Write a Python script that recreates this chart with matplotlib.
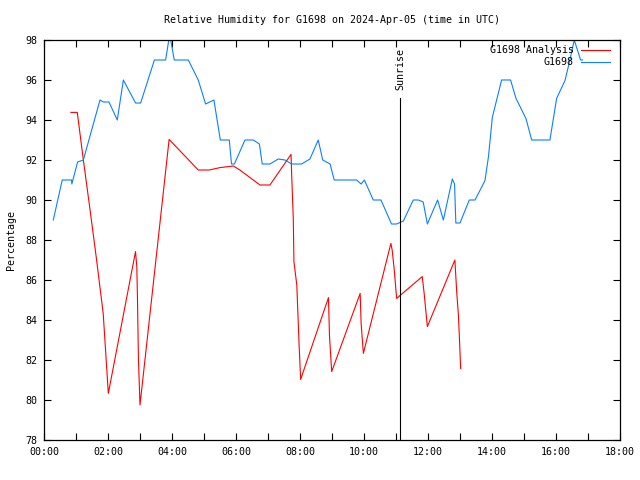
import matplotlib
matplotlib.use("Agg")
import matplotlib.pyplot as plt
from matplotlib.ticker import MultipleLocator, FuncFormatter

# Observation series (hours UTC, %RH)
obs_hours = [0.29, 0.57, 0.86, 0.87, 1.05, 1.23, 1.75, 1.85, 2.03, 2.29, 2.48, 2.86, 3.02,
             3.45, 3.80, 3.90, 3.96, 4.07, 4.51, 4.82, 5.05, 5.31, 5.51, 5.79, 5.86, 5.95,
             6.28, 6.54, 6.73, 6.82, 7.06, 7.32, 7.53, 7.74, 8.05, 8.31, 8.57, 8.71, 8.94,
             9.07, 9.77, 9.91, 10.01, 10.29, 10.53, 10.86, 11.02, 11.23, 11.54, 11.70, 11.85,
             11.98, 12.30, 12.48, 12.76, 12.83, 12.87, 13.00, 13.29, 13.47, 13.78, 13.89,
             14.01, 14.30, 14.58, 14.75, 15.06, 15.24, 15.81, 16.02, 16.28, 16.41, 16.57,
             16.77, 16.83]
obs_rh = [89.0, 91.0, 91.0, 90.8, 91.9, 92.0, 95.0, 94.9, 94.9, 94.0, 96.0, 94.85, 94.85,
          97.0, 97.0, 98.0, 98.0, 97.0, 97.0, 96.0, 94.8, 95.0, 93.0, 93.0, 91.8, 91.8,
          93.0, 93.0, 92.8, 91.8, 91.8, 92.05, 92.0, 91.8, 91.8, 92.05, 93.0, 92.0, 91.8,
          91.0, 91.0, 90.8, 91.0, 90.0, 90.0, 88.8, 88.8, 88.95, 90.0, 90.0, 89.9,
          88.8, 90.0, 89.0, 91.05, 90.8, 88.85, 88.85, 90.0, 90.0, 90.97, 92.17,
          94.13, 96.0, 96.0, 95.08, 94.08, 93.0, 93.0, 95.08, 95.97, 96.83, 98.0,
          97.0, 97.0]

# Analysis series
ana_hours = [0.84, 1.04, 1.23, 1.44, 1.63, 1.85, 1.93, 2.01, 2.86, 2.90, 2.92, 2.95, 3.00,
             3.91, 4.82, 5.16, 5.50, 5.92, 6.12, 6.75, 7.06, 7.72, 7.74, 7.79, 7.81, 7.90,
             7.97, 8.02, 8.89, 8.92, 8.99, 9.88, 9.91, 9.98, 10.84, 10.88, 10.94, 11.02,
             11.82, 11.88, 11.91, 11.98, 12.84, 12.90, 12.95, 12.98, 13.02]
ana_rh = [94.38, 94.38, 92.0, 89.5, 87.17, 84.33, 82.33, 80.33, 87.42, 86.67, 85.17, 82.1, 79.75,
          93.03, 91.5, 91.5, 91.62, 91.7, 91.5, 90.75, 90.75, 92.28, 91.25, 89.08, 86.92, 85.75,
          82.83, 81.03, 85.12, 83.25, 81.42, 85.33, 83.83, 82.33, 87.83, 87.5, 86.6, 85.08,
          86.17, 85.33, 84.83, 83.67, 87.0, 85.33, 84.25, 83.17, 81.58]

sunrise_hour = 11.13
title = "Relative Humidity for G1698 on 2024-Apr-05 (time in UTC)"
ylabel = "Percentage"
series_names = ["G1698 Analysis", "G1698"]

FONT = "DejaVu Sans Mono"
FS = 7.2

fig = plt.figure(figsize=(6.4, 4.8), dpi=100)
ax = fig.add_axes([44/640, 1 - 440/480, 576/640, 400/480])

ax.plot(ana_hours, ana_rh, color="#ff0000", lw=0.8, label=series_names[0])
ax.plot(obs_hours, obs_rh, color="#0a80ff", lw=0.8, label=series_names[1])

ax.plot([sunrise_hour, sunrise_hour], [78, 95.1], color="black", lw=0.8)
ax.text(sunrise_hour, 95.5, "Sunrise", rotation=90, ha="center", va="bottom",
        family=FONT, fontsize=FS)

ax.set_xlim(0, 18)
ax.set_ylim(78, 98)
ax.xaxis.set_major_locator(MultipleLocator(1))
ax.xaxis.set_major_formatter(FuncFormatter(
    lambda v, p: f"{int(round(v)):02d}:00" if int(round(v)) % 2 == 0 else ""))
ax.yaxis.set_major_locator(MultipleLocator(2))
ax.yaxis.set_major_formatter(FuncFormatter(lambda v, p: f"{int(round(v))}"))
ax.tick_params(direction="in", length=5, width=0.8, top=True, right=True,
               labelsize=FS, pad=5)
for lab in ax.get_xticklabels() + ax.get_yticklabels():
    lab.set_family(FONT)
for s in ax.spines.values():
    s.set_linewidth(0.9)

ax.set_title(title, family=FONT, fontsize=FS, pad=12)
fig.text(11/640, 0.5, ylabel, rotation=90, ha="center", va="center",
         family=FONT, fontsize=FS)

leg = ax.legend(loc="upper right", bbox_to_anchor=(1.0, 1.012), frameon=False,
                prop={"family": FONT, "size": FS},
                markerfirst=False, handlelength=2.9, handletextpad=0.7,
                borderaxespad=0.6, labelspacing=0.2)
for t in leg.get_texts():
    t.set_ha("right")

fig.savefig("out.png", dpi=100)
